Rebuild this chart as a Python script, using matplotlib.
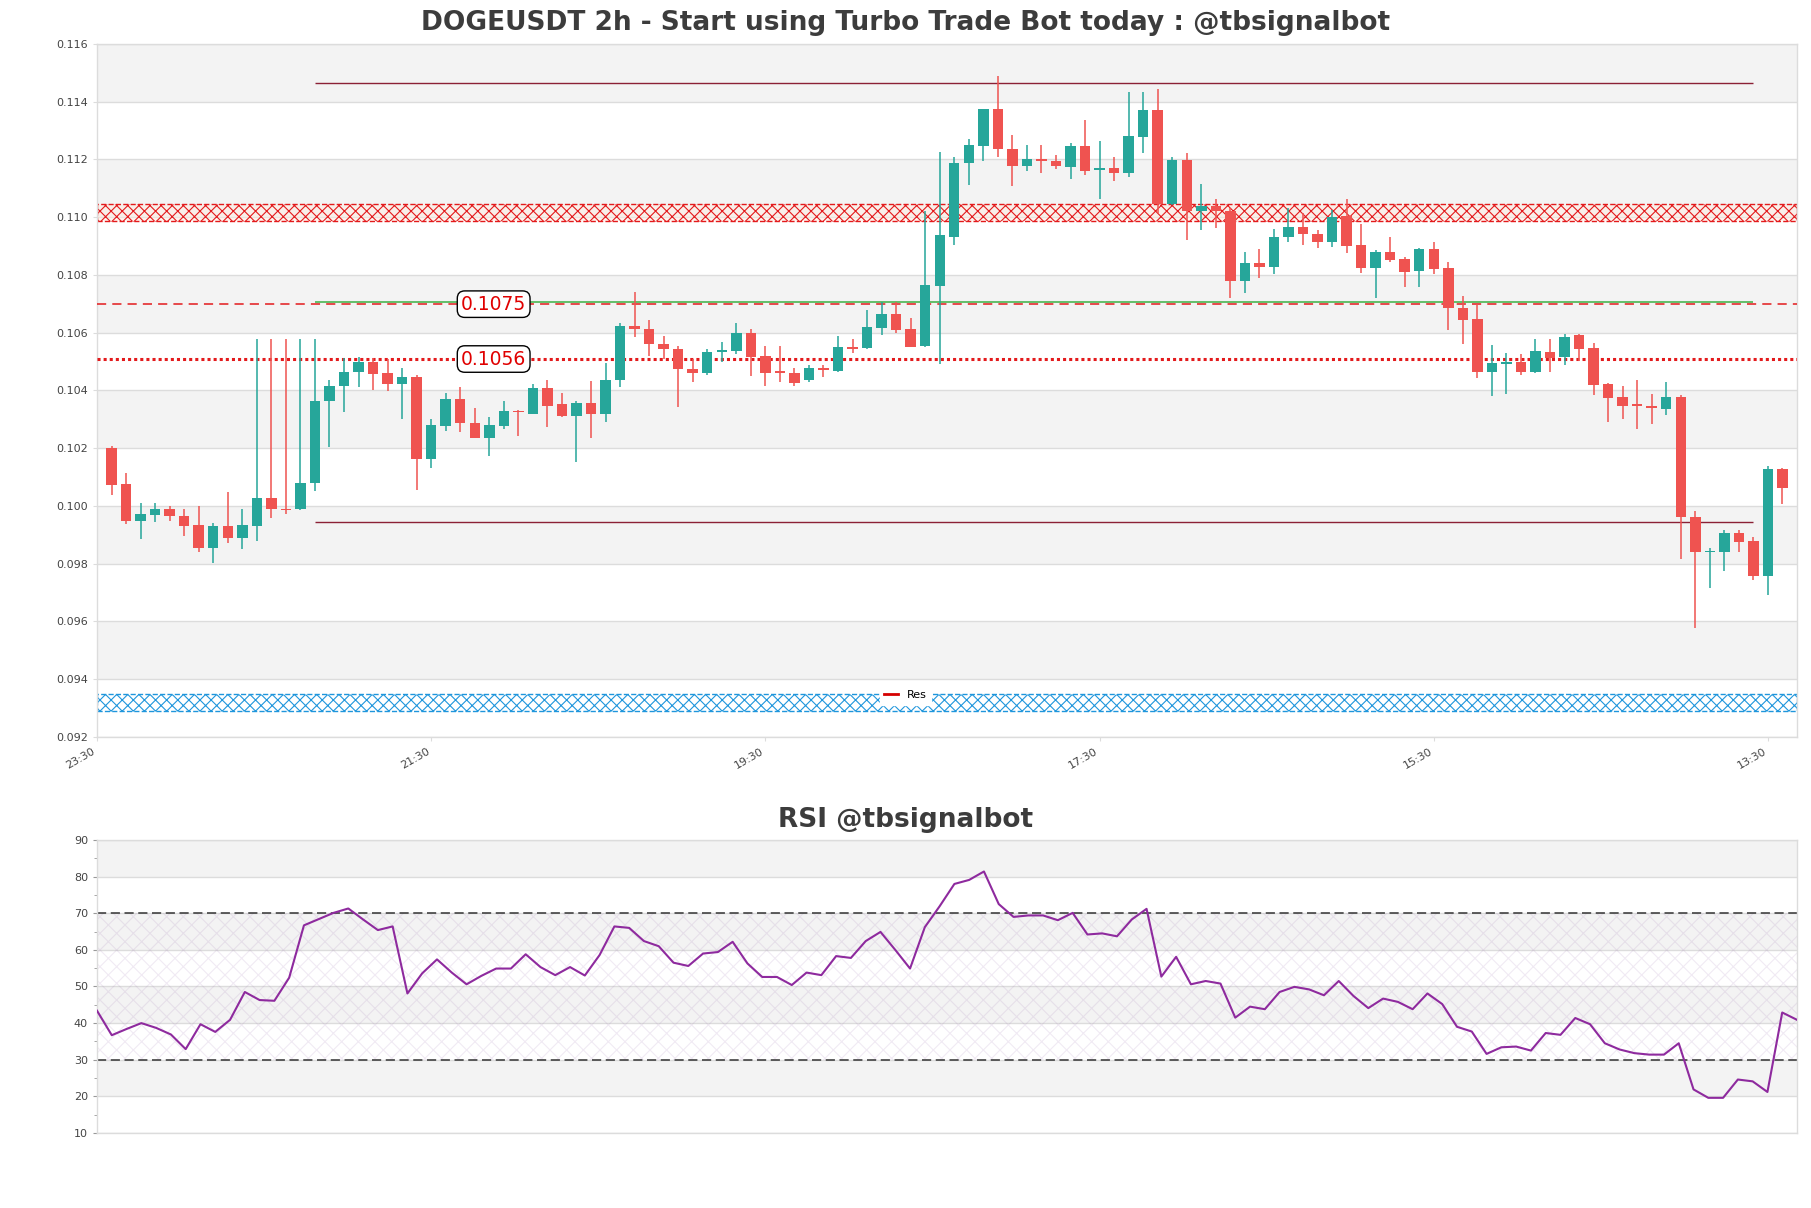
"""DOGEUSDT 2h candlestick chart with support/resistance zones and an RSI panel."""

import matplotlib

matplotlib.use("Agg")
import matplotlib.pyplot as plt
import numpy as np
from matplotlib.lines import Line2D

# ---------------------------------------------------------------- data
opens = [
    0.10200, 0.10075, 0.09948, 0.09968, 0.09991, 0.09964, 0.09933, 0.09853, 0.09930, 0.09889,
    0.09930, 0.10026, 0.09991, 0.09989, 0.10078, 0.10363, 0.10415, 0.10465, 0.10498, 0.10459,
    0.10423, 0.10447, 0.10163, 0.10277, 0.10369, 0.10288, 0.10235, 0.10277, 0.10328, 0.10320,
    0.10409, 0.10352, 0.10311, 0.10355, 0.10319, 0.10436, 0.10624, 0.10613, 0.10560, 0.10544,
    0.10476, 0.10461, 0.10533, 0.10538, 0.10600, 0.10520, 0.10463, 0.10461, 0.10436, 0.10475,
    0.10469, 0.10548, 0.10546, 0.10618, 0.10665, 0.10613, 0.10555, 0.10762, 0.10933, 0.11187,
    0.11247, 0.11375, 0.11236, 0.11177, 0.11200, 0.11196, 0.11175, 0.11247, 0.11164, 0.11172,
    0.11154, 0.11279, 0.11371, 0.11046, 0.11198, 0.11022, 0.11039, 0.11022, 0.10780, 0.10840,
    0.10829, 0.10933, 0.10967, 0.10942, 0.10913, 0.11004, 0.10904, 0.10825, 0.10881, 0.10854,
    0.10815, 0.10890, 0.10825, 0.10687, 0.10648, 0.10465, 0.10492, 0.10498, 0.10463, 0.10534,
    0.10515, 0.10592, 0.10548, 0.10424, 0.10379, 0.10351, 0.10342, 0.10335, 0.10379, 0.09961,
    0.09839, 0.09839, 0.09906, 0.09879, 0.09756, 0.10128,
]
highs = [
    0.10207, 0.10115, 0.10009, 0.10012, 0.10000, 0.09991, 0.10000, 0.09942, 0.10050, 0.09991,
    0.10578, 0.10578, 0.10578, 0.10577, 0.10577, 0.10438, 0.10513, 0.10517, 0.10513, 0.10510,
    0.10478, 0.10452, 0.10300, 0.10390, 0.10413, 0.10340, 0.10309, 0.10365, 0.10331, 0.10424,
    0.10438, 0.10390, 0.10365, 0.10432, 0.10496, 0.10633, 0.10740, 0.10644, 0.10589, 0.10555,
    0.10510, 0.10545, 0.10567, 0.10635, 0.10612, 0.10554, 0.10554, 0.10478, 0.10488, 0.10490,
    0.10589, 0.10577, 0.10679, 0.10708, 0.10708, 0.10650, 0.11020, 0.11227, 0.11210, 0.11271,
    0.11375, 0.11489, 0.11285, 0.11250, 0.11250, 0.11215, 0.11258, 0.11337, 0.11265, 0.11210,
    0.11435, 0.11434, 0.11443, 0.11208, 0.11224, 0.11115, 0.11062, 0.11031, 0.10881, 0.10889,
    0.10958, 0.11031, 0.11016, 0.10955, 0.11025, 0.11062, 0.10975, 0.10887, 0.10933, 0.10863,
    0.10892, 0.10915, 0.10844, 0.10728, 0.10700, 0.10558, 0.10531, 0.10525, 0.10580, 0.10577,
    0.10596, 0.10597, 0.10565, 0.10427, 0.10414, 0.10435, 0.10387, 0.10430, 0.10384, 0.09982,
    0.09855, 0.09918, 0.09918, 0.09894, 0.10138, 0.10133,
]
lows = [
    0.10038, 0.09936, 0.09884, 0.09944, 0.09948, 0.09896, 0.09840, 0.09801, 0.09873, 0.09852,
    0.09878, 0.09959, 0.09971, 0.09985, 0.10051, 0.10204, 0.10325, 0.10412, 0.10401, 0.10398,
    0.10302, 0.10057, 0.10132, 0.10259, 0.10257, 0.10235, 0.10173, 0.10267, 0.10244, 0.10317,
    0.10273, 0.10308, 0.10152, 0.10235, 0.10290, 0.10413, 0.10586, 0.10520, 0.10510, 0.10342,
    0.10429, 0.10453, 0.10499, 0.10525, 0.10450, 0.10415, 0.10430, 0.10415, 0.10430, 0.10448,
    0.10465, 0.10529, 0.10543, 0.10592, 0.10600, 0.10550, 0.10552, 0.10491, 0.10904, 0.11112,
    0.11196, 0.11210, 0.11108, 0.11161, 0.11152, 0.11166, 0.11132, 0.11146, 0.11062, 0.11127,
    0.11141, 0.11224, 0.11016, 0.11042, 0.10921, 0.10956, 0.10962, 0.10719, 0.10736, 0.10788,
    0.10802, 0.10913, 0.10904, 0.10892, 0.10898, 0.10875, 0.10808, 0.10719, 0.10846, 0.10757,
    0.10757, 0.10802, 0.10610, 0.10560, 0.10442, 0.10380, 0.10388, 0.10455, 0.10459, 0.10463,
    0.10490, 0.10502, 0.10384, 0.10292, 0.10300, 0.10265, 0.10284, 0.10316, 0.09815, 0.09576,
    0.09715, 0.09775, 0.09842, 0.09743, 0.09693, 0.10006,
]
closes = [
    0.10072, 0.09948, 0.09974, 0.09991, 0.09965, 0.09930, 0.09853, 0.09930, 0.09889, 0.09933,
    0.10026, 0.09989, 0.09985, 0.10078, 0.10365, 0.10417, 0.10465, 0.10498, 0.10458, 0.10423,
    0.10447, 0.10163, 0.10279, 0.10369, 0.10288, 0.10235, 0.10279, 0.10328, 0.10324, 0.10407,
    0.10348, 0.10311, 0.10355, 0.10317, 0.10438, 0.10624, 0.10612, 0.10560, 0.10543, 0.10473,
    0.10460, 0.10535, 0.10537, 0.10600, 0.10517, 0.10460, 0.10460, 0.10427, 0.10477, 0.10471,
    0.10552, 0.10543, 0.10621, 0.10665, 0.10610, 0.10552, 0.10765, 0.10939, 0.11189, 0.11250,
    0.11375, 0.11235, 0.11179, 0.11201, 0.11196, 0.11177, 0.11247, 0.11161, 0.11169, 0.11154,
    0.11281, 0.11371, 0.11046, 0.11198, 0.11022, 0.11039, 0.11020, 0.10780, 0.10840, 0.10827,
    0.10931, 0.10967, 0.10941, 0.10913, 0.11000, 0.10902, 0.10825, 0.10881, 0.10852, 0.10812,
    0.10890, 0.10821, 0.10685, 0.10644, 0.10465, 0.10494, 0.10499, 0.10463, 0.10538, 0.10513,
    0.10586, 0.10545, 0.10418, 0.10374, 0.10348, 0.10346, 0.10340, 0.10379, 0.09961, 0.09839,
    0.09842, 0.09906, 0.09874, 0.09756, 0.10128, 0.10061,
]
rsi_values = [
    43.4, 36.7, 38.4, 40.0, 38.7, 36.9, 32.9, 39.7, 37.6, 40.9,
    48.5, 46.3, 46.1, 52.4, 66.7, 68.4, 70.1, 71.3, 68.3, 65.4,
    66.4, 48.1, 53.6, 57.4, 53.8, 50.6, 52.9, 54.9, 54.9, 58.8,
    55.3, 53.1, 55.3, 53.0, 58.6, 66.4, 66.0, 62.4, 61.0, 56.5,
    55.6, 59.0, 59.4, 62.2, 56.3, 52.6, 52.6, 50.4, 53.8, 53.1,
    58.3, 57.8, 62.4, 64.9, 60.0, 54.9, 66.2, 71.9, 78.0, 79.1,
    81.4, 72.5, 69.0, 69.4, 69.4, 68.1, 70.1, 64.2, 64.5, 63.7,
    68.3, 71.2, 52.7, 58.1, 50.6, 51.5, 50.8, 41.5, 44.5, 43.8,
    48.5, 49.9, 49.2, 47.6, 51.5, 47.4, 44.1, 46.7, 45.8, 43.8,
    48.1, 45.2, 39.0, 37.7, 31.6, 33.4, 33.6, 32.5, 37.3, 36.8,
    41.4, 39.7, 34.5, 32.8, 31.8, 31.4, 31.4, 34.5, 21.9, 19.6,
    19.6, 24.6, 24.1, 21.2, 42.9, 40.9,
]

tick_index = [-1, 22, 45, 68, 91, 114]
tick_labels = ["23:30", "21:30", "19:30", "17:30", "15:30", "13:30"]

range_high = 0.11464
range_low = 0.09944
range_span = (14, 113)
res_line = 0.10699
res_label = "0.1075"
mid_line = 0.10706
sup_line = 0.10509
sup_label = "0.1056"
res_zone = (0.10988, 0.11046)
sup_zone = (0.09291, 0.09348)

GREEN = "#26a69a"
RED = "#ef5350"
BAND = "#f3f3f3"
GRID = "#dcdcdc"
TEXT = "#444444"

plt.rcParams["hatch.linewidth"] = 0.8


def shade_bands(ax, ticks):
    for k in range(len(ticks) - 1):
        if k % 2 == 1:
            ax.axhspan(ticks[k], ticks[k + 1], color=BAND, lw=0, zorder=0)
    for t in ticks:
        ax.axhline(t, color=GRID, lw=1.0, zorder=0.5)
    for spine in ax.spines.values():
        spine.set_color(GRID)
        spine.set_linewidth(1.0)


def main() -> None:
    fig = plt.figure(figsize=(18.11, 12.08), dpi=100)
    ax = fig.add_axes([0.05356, 0.3899, 0.93871, 0.57368])
    rsi_ax = fig.add_axes([0.05356, 0.06209, 0.93871, 0.24255])

    o = np.array(opens)
    h = np.array(highs)
    lo = np.array(lows)
    c = np.array(closes)
    x = np.arange(len(o))
    up = c >= o
    colors = np.where(up, GREEN, RED)

    # ---- price panel
    yticks = np.round(np.arange(0.092, 0.1161, 0.002), 3)
    shade_bands(ax, yticks)

    ax.vlines(x, lo, h, colors=colors, lw=1.1, zorder=4)
    body_low = np.minimum(o, c)
    body_h = np.maximum(np.abs(c - o), 0.00006)
    ax.bar(x, body_h, bottom=body_low, width=0.72, color=colors, lw=0, zorder=5)

    ax.hlines([range_high, range_low], *range_span, color="#8b2035", lw=1.0, zorder=3)
    ax.axhline(res_line, color="#e31a1c", lw=1.1, ls=(0, (6, 4)), zorder=3)
    ax.hlines(mid_line, *range_span, color="#3cb043", lw=1.1, zorder=3)
    ax.axhline(sup_line, color="#e31a1c", lw=2.2, ls=(0, (1, 1)), zorder=3)

    ax.axhspan(*res_zone, facecolor=(1.0, 0.93, 0.88, 0.5), edgecolor="#e31a1c",
               hatch="xxx", lw=1.0, ls="--", zorder=2)
    ax.axhspan(*sup_zone, facecolor="none", edgecolor="#1f96dc",
               hatch="xxx", lw=1.0, ls="--", zorder=2)

    box = dict(boxstyle="round,pad=0.2,rounding_size=0.4", fc="white", ec="black", lw=1.0)
    ax.text(26.3, res_line, res_label, color="#e00000", fontsize=13.5,
            ha="center", va="center", bbox=box, zorder=8)
    ax.text(26.3, sup_line, sup_label, color="#e00000", fontsize=13.5,
            ha="center", va="center", bbox=box, zorder=8)

    ax.set_xlim(-1, len(o))
    ax.set_ylim(yticks[0], yticks[-1])
    ax.set_yticks(yticks)
    ax.set_yticklabels([f"{t:.3f}" for t in yticks])
    ax.set_xticks(tick_index)
    ax.set_xticklabels(tick_labels, rotation=30, ha="right")
    ax.tick_params(axis="both", labelsize=8, labelcolor=TEXT, color=GRID, length=3)

    handle = Line2D([], [], color="#d50000", lw=2)
    fig.legend([handle], ["Res"], loc="lower center", bbox_to_anchor=(0.5, 0.412),
               fontsize=8, frameon=True, facecolor="white", edgecolor="white",
               framealpha=1.0, handlelength=1.2, borderpad=0.4)

    fig.text(0.5, 0.981, "DOGEUSDT 2h - Start using Turbo Trade Bot today : @tbsignalbot",
             ha="center", va="center", fontsize=19, fontweight="bold", color="#3c3c3c")

    # ---- RSI panel
    rsi_ticks = np.arange(10, 91, 10)
    shade_bands(rsi_ax, rsi_ticks)
    rsi_ax.axhspan(30, 70, facecolor="none", edgecolor=(0.55, 0.35, 0.65, 0.12),
                   hatch="xx", lw=0, zorder=1)
    rsi_ax.axhline(70, color="#333333", lw=1.1, ls=(0, (6, 3)), zorder=2)
    rsi_ax.axhline(30, color="#333333", lw=1.1, ls=(0, (6, 3)), zorder=2)
    rsi_ax.plot(np.arange(len(rsi_values)), rsi_values, color="#8e2a9e", lw=1.5, zorder=3)

    rsi_ax.set_xlim(0, len(rsi_values) - 1)
    rsi_ax.set_ylim(10, 90)
    rsi_ax.set_yticks(rsi_ticks)
    rsi_ax.set_yticks(np.arange(15, 90, 10), minor=True)
    rsi_ax.set_xticks([])
    rsi_ax.tick_params(axis="y", which="both", labelsize=8, labelcolor=TEXT,
                       color="#999999", length=3)
    rsi_ax.tick_params(axis="y", which="minor", length=2)

    fig.text(0.5, 0.321, "RSI @tbsignalbot", ha="center", va="center",
             fontsize=19, fontweight="bold", color="#3c3c3c")

    fig.savefig("out.png", dpi=100)
    plt.close(fig)


if __name__ == "__main__":
    main()
